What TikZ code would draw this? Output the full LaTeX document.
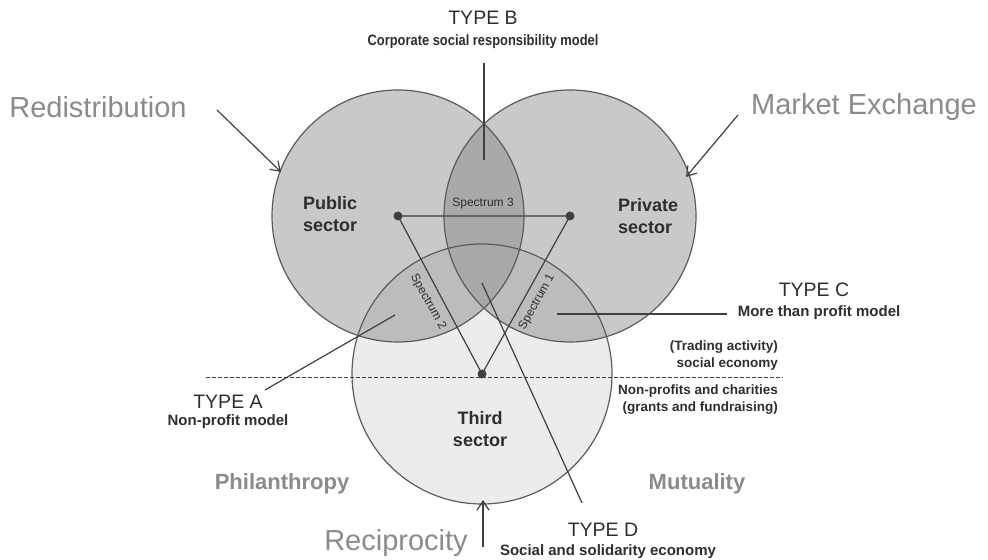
\documentclass[tikz,border=0pt]{standalone}
\usepackage{fontspec}
\setmainfont{Liberation Sans}
\newfontfamily\narrowsf[FakeStretch=0.86]{Liberation Sans}
\usetikzlibrary{arrows.meta}
\definecolor{ring}{HTML}{5C5C5C}
\definecolor{wire}{HTML}{404040}
\definecolor{txt}{HTML}{2E2E2E}
\definecolor{soft}{HTML}{8B8B8B}
\definecolor{base}{HTML}{C9C9C9}
\definecolor{thirdfill}{HTML}{ECECEC}
\definecolor{pair}{HTML}{BCBCBC}
\definecolor{lens}{HTML}{A9A9A9}

\begin{document}
\begin{tikzpicture}
  [x=0.5pt,y=0.5pt,
   head/.style={font=\fontsize{9.75}{11}\selectfont,text=txt},
   sub/.style={font=\fontsize{7.5}{9}\selectfont\bfseries,text=txt},
   big/.style={font=\fontsize{14.5}{17}\selectfont,text=soft},
   mode/.style={font=\fontsize{11}{13}\selectfont\bfseries,text=soft},
   sector/.style={font=\fontsize{9}{11}\selectfont\bfseries,text=txt,align=left},
   spec/.style={font=\fontsize{6}{7}\selectfont,text=txt,inner sep=0pt},
   note/.style={font=\fontsize{6.75}{8.5}\selectfont\bfseries,text=txt,align=right},
   link/.style={draw=wire,line width=0.6pt},
   feed/.style={link,-{Straight Barb[length=4.5pt,width=6pt]}}]
  \useasboundingbox (0,0) rectangle (988,560);

  % circle centres
  \coordinate (Pub) at (398,344);
  \coordinate (Pri) at (570,344);
  \coordinate (Thi) at (482,186);

  % fills
  \fill[thirdfill] (Thi) circle (130);
  \fill[base] (Pub) circle (126);
  \fill[base] (Pri) circle (126);
  \begin{scope}
    \clip (Thi) circle (130);
    \fill[pair] (Pub) circle (126);
    \fill[pair] (Pri) circle (126);
  \end{scope}
  \begin{scope}
    \clip (Pub) circle (126);
    \fill[lens] (Pri) circle (126);
  \end{scope}
  \foreach \c/\r in {Pub/126,Pri/126,Thi/130}
    \draw[ring,line width=0.6pt] (\c) circle (\r);

  % triangle
  \draw[link] (Pub) -- (Pri) -- (Thi) -- cycle;
  \foreach \c in {Pub,Pri,Thi}
    \fill[wire] (\c) circle (4.5);

  % dividing line
  \coordinate (divL) at (206,183);
  \coordinate (divR) at (783,183);
  \draw[wire,line width=0.4pt,dash pattern=on 2pt off 1pt] (divL) -- (divR);

  % sectors
  \node[sector,anchor=west] (public) at (296,346) {Public\\sector};
  \node[sector,anchor=west] (private) at (611,344) {Private\\sector};
  \node[sector,align=center] (third) at (480,131) {Third\\sector};
  \node[spec] (spec3) at (483,356) {Spectrum 3};
  \node[spec,rotate=-61] (spec2) at (428,258) {Spectrum 2};
  \node[spec,rotate=61] (spec1) at (537,258) {Spectrum 1};

  % outer forms
  \node[big] (redis) at (98,453) {Redistribution};
  \node[big] (market) at (864,453) {Market Exchange};
  \node[big] (recip) at (396,17) {Reciprocity};
  \node[mode] (phil) at (282,76) {Philanthropy};
  \node[mode] (mutual) at (697,76) {Mutuality};

  % types
  \node[head] (typeB) at (483,542) {TYPE B};
  \node[sub,font=\fontsize{7.5}{9}\narrowsf\bfseries] (typeBsub) at (483,518) {Corporate social responsibility model};
  \node[head] (typeC) at (814,270) {TYPE C};
  \node[sub] (typeCsub) at (819,247) {More than profit model};
  \node[head] (typeA) at (228,158) {TYPE A};
  \node[sub] (typeAsub) at (228,138) {Non-profit model};
  \node[head] (typeD) at (603,30) {TYPE D};
  \node[sub] (typeDsub) at (608,8) {Social and solidarity economy};
  \node[note,anchor=east] (trade) at (785,204) {(Trading activity)\\social economy};
  \node[note,anchor=east] (charity) at (785,160) {Non-profits and charities\\(grants and fundraising)};

  % connector ends
  \coordinate (bTop) at (484,497);
  \coordinate (bIn) at (484,400);
  \coordinate (cIn) at (557,246);
  \coordinate (cOut) at (727,246);
  \coordinate (aIn) at (395,245);
  \coordinate (aOut) at (265,170);
  \coordinate (dIn) at (482,277);
  \coordinate (dOut) at (582,57);
  \coordinate (redisEnd) at (217,450);
  \coordinate (redisTip) at (281,388);
  \coordinate (marketEnd) at (738,445);
  \coordinate (marketTip) at (686,383);
  \coordinate (recipEnd) at (483,13);
  \coordinate (recipTip) at (483,60);

  \foreach \from/\to in {bTop/bIn,cOut/cIn,aOut/aIn,dIn/dOut}
    \draw[link] (\from) -- (\to);
  \foreach \from/\to in {redisEnd/redisTip,marketEnd/marketTip,recipEnd/recipTip}
    \draw[feed] (\from) -- (\to);

\end{tikzpicture}
\end{document}
